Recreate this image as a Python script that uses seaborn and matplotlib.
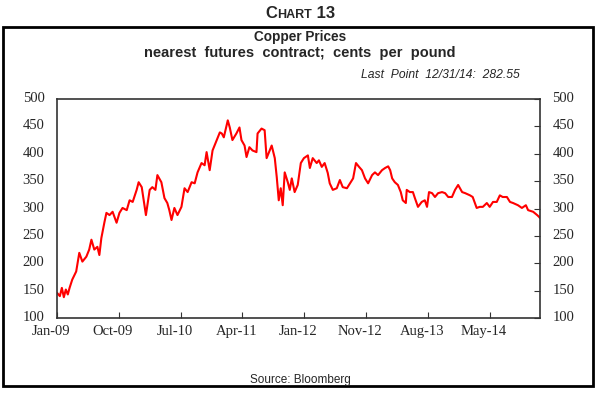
import matplotlib
matplotlib.use("Agg")
import matplotlib.pyplot as plt
import matplotlib.transforms as mtransforms
from matplotlib.offsetbox import TextArea, HPacker, AnchoredOffsetbox
from matplotlib.patches import Rectangle
import pandas as pd
import seaborn as sns

# copper, nearest futures contract, cents per pound
dates = [
    "2009-01-02", "2009-01-15", "2009-01-24", "2009-02-02", "2009-02-11", "2009-02-20",
    "2009-02-28", "2009-03-12", "2009-03-30", "2009-04-13", "2009-04-27", "2009-05-15",
    "2009-05-28", "2009-06-07", "2009-06-20", "2009-07-04", "2009-07-13", "2009-07-22",
    "2009-08-05", "2009-08-14", "2009-08-28", "2009-09-11", "2009-09-29", "2009-10-12",
    "2009-10-26", "2009-11-14", "2009-11-27", "2009-12-11", "2009-12-29", "2010-01-07",
    "2010-01-21", "2010-02-09", "2010-02-26", "2010-03-10", "2010-03-24", "2010-04-02",
    "2010-04-20", "2010-05-04", "2010-05-17", "2010-05-26", "2010-06-05", "2010-06-18",
    "2010-07-02", "2010-07-20", "2010-08-03", "2010-08-17", "2010-09-04", "2010-09-18",
    "2010-10-01", "2010-10-19", "2010-11-02", "2010-11-11", "2010-11-25", "2010-12-08",
    "2010-12-27", "2011-01-10", "2011-01-19", "2011-01-28", "2011-02-15", "2011-02-24",
    "2011-03-08", "2011-03-26", "2011-04-09", "2011-04-18", "2011-05-02", "2011-05-11",
    "2011-05-24", "2011-06-07", "2011-06-25", "2011-06-30", "2011-07-18", "2011-08-01",
    "2011-08-10", "2011-08-24", "2011-09-02", "2011-09-16", "2011-09-25", "2011-10-04",
    "2011-10-13", "2011-10-22", "2011-10-31", "2011-11-14", "2011-11-23", "2011-12-02",
    "2011-12-15", "2011-12-29", "2012-01-12", "2012-01-26", "2012-02-13", "2012-02-22",
    "2012-03-06", "2012-03-24", "2012-04-03", "2012-04-16", "2012-04-29", "2012-05-13",
    "2012-05-22", "2012-06-05", "2012-06-23", "2012-07-07", "2012-07-20", "2012-08-08",
    "2012-08-22", "2012-09-05", "2012-09-18", "2012-10-02", "2012-10-15", "2012-10-29",
    "2012-11-12", "2012-11-30", "2012-12-13", "2012-12-27", "2013-01-14", "2013-01-28",
    "2013-02-11", "2013-02-20", "2013-03-01", "2013-03-13", "2013-03-27", "2013-04-09",
    "2013-04-18", "2013-05-02", "2013-05-06", "2013-05-20", "2013-06-03", "2013-06-12",
    "2013-06-26", "2013-07-13", "2013-07-27", "2013-08-06", "2013-08-15", "2013-08-29",
    "2013-09-11", "2013-09-25", "2013-10-13", "2013-10-27", "2013-11-10", "2013-11-27",
    "2013-12-11", "2013-12-25", "2014-01-12", "2014-01-26", "2014-02-17", "2014-03-01",
    "2014-03-19", "2014-04-02", "2014-04-16", "2014-05-04", "2014-05-17", "2014-06-01",
    "2014-06-18", "2014-07-02", "2014-07-15", "2014-08-03", "2014-08-17", "2014-08-31",
    "2014-09-22", "2014-10-10", "2014-10-28", "2014-11-07", "2014-11-30", "2014-12-18",
    "2014-12-26", "2014-12-31",
]
prices = [
    146, 140, 155, 138, 152, 143,
    155, 170, 185, 219, 203, 212,
    225, 243, 225, 230, 215, 246,
    275, 292, 288, 294, 274, 292,
    301, 297, 315, 312, 334, 348,
    339, 288, 334, 339, 334, 361,
    348, 319, 310, 297, 279, 301,
    288, 303, 337, 330, 348, 346,
    366, 383, 379, 403, 370, 406,
    425, 439, 437, 430, 461, 448,
    425, 437, 448, 425, 415, 394,
    412, 406, 403, 437, 446, 443,
    392, 406, 415, 392, 357, 315,
    337, 306, 366, 348, 334, 355,
    330, 343, 383, 392, 397, 374,
    392, 383, 388, 376, 383, 365,
    346, 334, 337, 352, 339, 337,
    346, 355, 383, 376, 370, 355,
    346, 361, 366, 361, 370, 374,
    377, 370, 355, 348, 343, 330,
    315, 310, 334, 330, 330, 319,
    303, 312, 315, 303, 330, 328,
    321, 328, 330, 328, 321, 321,
    334, 343, 330, 328, 324, 321,
    301, 303, 303, 310, 303, 312,
    312, 324, 321, 321, 312, 310,
    306, 301, 306, 297, 294, 288,
    285, 282.55,
]

tick_dates = ["2009-01-02", "2009-10-09", "2010-07-16", "2011-04-22",
              "2012-01-27", "2012-11-02", "2013-08-10", "2014-05-17"]
tick_labels = ["Jan-09", "Oct-09", "Jul-10", "Apr-11",
               "Jan-12", "Nov-12", "Aug-13", "May-14"]
y_ticks = [100, 150, 200, 250, 300, 350, 400, 450, 500]

sns.set_style("ticks")
plt.rcParams['font.family'] = ['Liberation Sans', 'DejaVu Sans']

df = pd.DataFrame({"date": pd.to_datetime(dates), "price": prices})

W, H = 600, 393
fig = plt.figure(figsize=(W / 100, H / 100), dpi=100)
ax = fig.add_axes([57 / W, 1 - 318 / H, 483 / W, 219 / H])

sns.lineplot(data=df, x="date", y="price", color="#ff0000", lw=1.5, ax=ax)

ax.set_xlim(pd.Timestamp("2009-01-02"), pd.Timestamp("2014-12-31"))
ax.set_ylim(100, 500)
ax.set_xticks(pd.to_datetime(tick_dates))
ax.set_xticklabels(tick_labels)
ax.set_yticks(y_ticks)
ax.set_yticklabels([str(v) for v in y_ticks])
ax.set_xlabel("")
ax.set_ylabel("")

for side in ["top", "bottom", "left", "right"]:
    ax.spines[side].set_color("#333333")
    ax.spines[side].set_linewidth(1.2)

ax.tick_params(axis="x", direction="in", length=4, width=0.8, color="#333333",
               pad=5, labelsize=10.5)
ax.tick_params(axis="y", left=False, right=True, labelleft=True, labelright=True,
               direction="in", length=4, width=0.8, color="#333333", pad=9, labelsize=10.5)

# tick labels in serif, x labels sit a bit left of their ticks
serif = ['Liberation Serif', 'DejaVu Serif']
shift_x = mtransforms.ScaledTranslation(-6 / 100, 0, fig.dpi_scale_trans)
shift_y = mtransforms.ScaledTranslation(0, 2 / 100, fig.dpi_scale_trans)
for lab in ax.get_xticklabels():
    lab.set_family(serif)
    lab.set_transform(lab.get_transform() + shift_x)
for tick in ax.yaxis.get_major_ticks():
    tick.label1.set_transform(tick.label1.get_transform() + shift_y)
    tick.label2.set_transform(tick.label2.get_transform() + shift_y)
    tick.label1.set_family(serif)
    tick.label2.set_family(serif)

# outer frame
fig.patches.append(Rectangle((3 / W, 1 - 386 / H), 590 / W, 359 / H,
                             transform=fig.transFigure, fill=False,
                             lw=2, ec="black"))

# "CHART 13" in small caps
big = dict(fontsize=12, fontweight="bold", family=['Liberation Sans', 'DejaVu Sans'])
small = dict(fontsize=9, fontweight="bold", family=['Liberation Sans', 'DejaVu Sans'])
packed = HPacker(children=[TextArea("C", textprops=big),
                           TextArea("HART", textprops=small),
                           TextArea(" 13", textprops=big)],
                 align="baseline", pad=0, sep=0)
anch = AnchoredOffsetbox(loc="center", child=packed, pad=0, borderpad=0,
                         frameon=False, bbox_to_anchor=(0.5, 1 - 14 / H),
                         bbox_transform=fig.transFigure)
anch.set_clip_on(False)
ax.add_artist(anch)

fig.text(0.5, 1 - 37 / H, "Copper Prices", ha="center", va="center",
         fontsize=9.8, fontweight="bold")
fig.text(0.5, 1 - 53 / H, "nearest  futures  contract;  cents  per  pound",
         ha="center", va="center", fontsize=10.5, fontweight="bold")
fig.text(520 / W, 1 - 75 / H, "Last  Point  12/31/14:  282.55", ha="right",
         va="center", fontsize=8.7, fontstyle="italic")
fig.text(0.5, 1 - 380 / H, "Source: Bloomberg", ha="center", va="center",
         fontsize=8.5)

fig.savefig("out.png", dpi=100)
